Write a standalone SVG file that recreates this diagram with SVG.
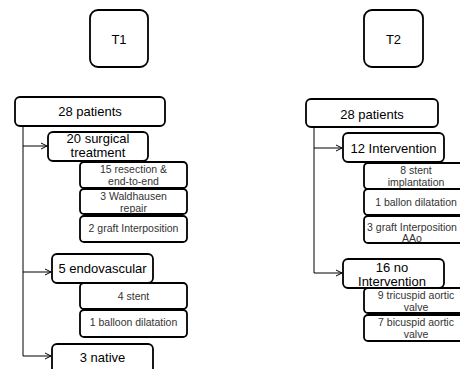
<svg xmlns="http://www.w3.org/2000/svg" width="460" height="369" viewBox="0 0 460 369">
<style>
.b{fill:#fff;stroke:#000;stroke-width:1.8}
.t{font-family:"Liberation Sans",Arial,sans-serif;font-size:13px;fill:#000;text-anchor:middle}
.s{font-family:"Liberation Sans",Arial,sans-serif;font-size:10.5px;fill:#333;text-anchor:middle}
.c{fill:none;stroke:#000;stroke-width:1}
</style>
<defs>
<marker id="ah" markerWidth="8" markerHeight="8" refX="7" refY="4" orient="auto" markerUnits="userSpaceOnUse">
<path d="M1,1 L7,4 L1,7" fill="none" stroke="#000" stroke-width="1"/>
</marker>
</defs>
<rect width="460" height="369" fill="#fff"/>
<g id="connectors">
<path class="c" d="M23,126 V356"/>
<path class="c" d="M23,146 H47" marker-end="url(#ah)"/>
<path class="c" d="M23,272 H51" marker-end="url(#ah)"/>
<path class="c" d="M23,356 H51" marker-end="url(#ah)"/>
<path class="c" d="M314,127 V273"/>
<path class="c" d="M314,148 H342" marker-end="url(#ah)"/>
<path class="c" d="M314,273 H342" marker-end="url(#ah)"/>
</g>
<g id="T1"><rect class="b" x="90" y="10" width="58" height="57" rx="8"/><text class="t" x="119" y="44">T1</text></g>
<g id="T2"><rect class="b" x="364" y="10" width="59" height="57" rx="8"/><text class="t" x="393.5" y="44">T2</text></g>
<g id="L28"><rect class="b" x="15" y="97" width="150" height="29" rx="5"/><text class="t" x="90" y="116">28 patients</text></g>
<g id="L20"><rect class="b" x="48" y="132" width="100" height="29" rx="5"/><text class="t" x="98" y="143">20 surgical</text><text class="t" x="98" y="157">treatment</text></g>
<g id="L15"><rect class="b" x="80" y="162" width="107" height="26" rx="4"/><text class="s" x="133.5" y="173">15 resection &amp;</text><text class="s" x="133.5" y="185">end-to-end</text></g>
<g id="L3w"><rect class="b" x="80" y="189" width="107" height="25" rx="4"/><text class="s" x="133.5" y="200">3 Waldhausen</text><text class="s" x="133.5" y="212">repair</text></g>
<g id="L2g"><rect class="b" x="80" y="216" width="107" height="26" rx="4"/><text class="s" x="133.5" y="232">2 graft Interposition</text></g>
<g id="L5"><rect class="b" x="52" y="254" width="101" height="29" rx="5"/><text class="t" x="102.5" y="272.5">5 endovascular</text></g>
<g id="L4"><rect class="b" x="80" y="283" width="107" height="26" rx="4"/><text class="s" x="133.5" y="300">4 stent</text></g>
<g id="L1b"><rect class="b" x="80" y="310" width="107" height="27" rx="4"/><text class="s" x="133.5" y="326">1 balloon dilatation</text></g>
<g id="L3n"><rect class="b" x="52" y="344" width="101" height="30" rx="5"/><text class="t" x="102.5" y="361.5">3 native</text></g>
<g id="R28"><rect class="b" x="306" y="99" width="132" height="28" rx="5"/><text class="t" x="372" y="118.5">28 patients</text></g>
<g id="R12"><rect class="b" x="343" y="133" width="101" height="29" rx="5"/><text class="t" x="393.5" y="152.5">12 Intervention</text></g>
<g id="R8"><rect class="b" x="364" y="163" width="108" height="26" rx="4"/><text class="s" x="416" y="174">8 stent</text><text class="s" x="416" y="186">implantation</text></g>
<g id="R1"><rect class="b" x="364" y="189" width="108" height="26" rx="4"/><text class="s" x="416" y="206">1 ballon dilatation</text></g>
<g id="R3"><rect class="b" x="364" y="216" width="108" height="27" rx="4"/><text class="s" x="412" y="231">3 graft Interposition</text><text class="s" x="412" y="241.5">AAo</text></g>
<g id="R16"><rect class="b" x="343" y="259" width="101" height="29" rx="5"/><text class="t" x="392" y="271.5">16 no</text><text class="t" x="392" y="285.5">Intervention</text></g>
<g id="R9"><rect class="b" x="364" y="288" width="108" height="25" rx="4"/><text class="s" x="416" y="299">9 tricuspid aortic</text><text class="s" x="416" y="311">valve</text></g>
<g id="R7"><rect class="b" x="364" y="315" width="108" height="26" rx="4"/><text class="s" x="416" y="326">7 bicuspid aortic</text><text class="s" x="416" y="338">valve</text></g>
</svg>
